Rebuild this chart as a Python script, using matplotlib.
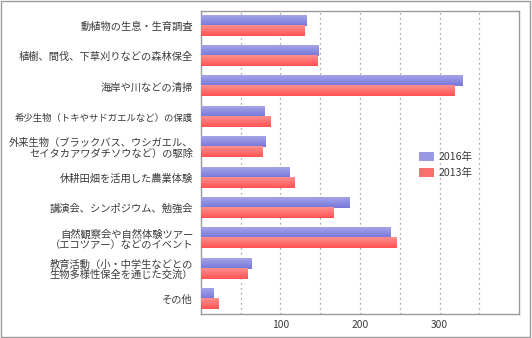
import matplotlib
matplotlib.use("Agg")
import matplotlib.pyplot as plt
import numpy as np
from matplotlib.colors import LinearSegmentedColormap
from matplotlib.patches import Patch, Rectangle

plt.rcParams["font.family"] = ["Noto Sans CJK JP", "DejaVu Sans"]

categories = [
    "動植物の生息・生育調査",
    "植樹、間伐、下草刈りなどの森林保全",
    "海岸や川などの清掃",
    "希少生物（トキやサドガエルなど）の保護",
    "外来生物（ブラックバス、ウシガエル、\nセイタカアワダチソウなど）の駆除",
    "休耕田畑を活用した農業体験",
    "講演会、シンポジウム、勉強会",
    "自然観察会や自然体験ツアー\n（エコツアー）などのイベント",
    "教育活動（小・中学生などとの\n生物多様性保全を通じた交流）",
    "その他",
]
values_2016 = [133, 148, 328, 80, 81, 111, 186, 238, 63, 16]
values_2013 = [130, 146, 318, 87, 77, 118, 166, 246, 58, 22]
series_labels = ["2016年", "2013年"]
grid_ticks = [50, 100, 150, 200, 250, 300, 350]
tick_labels = [100, 200, 300]

blue_cmap = LinearSegmentedColormap.from_list("blue", ["#a4a4ea", "#7676da"])
red_cmap = LinearSegmentedColormap.from_list("red", ["#ff9090", "#ff5252"])

fig = plt.figure(figsize=(5.32, 3.38), dpi=100)
ax = fig.add_axes([0.3773, 0.0701, 0.5988, 0.8988])

y = np.arange(len(categories))
h = 0.33
bars_16 = ax.barh(y - h / 2, values_2016, height=h, color="#8e8ee2", edgecolor="none", zorder=2)
bars_13 = ax.barh(y + h / 2, values_2013, height=h, color="#ff6a6a", edgecolor="none", zorder=2)

# vertical gradient over each bar
grad = np.linspace(0, 1, 64)[:, None]
for bars, cmap in [(bars_16, blue_cmap), (bars_13, red_cmap)]:
    for rect in bars:
        x0, y0 = rect.get_x(), rect.get_y()
        w, hh = rect.get_width(), rect.get_height()
        ax.imshow(grad, cmap=cmap, extent=(x0, x0 + w, y0 + hh, y0),
                  aspect="auto", origin="upper", zorder=3, interpolation="bilinear")

for gx in grid_ticks:
    ax.axvline(gx, color="#8a8a8a", linestyle=(0, (1, 3)), linewidth=0.9, zorder=1)

ax.set_xlim(0, 400)
ax.set_ylim(len(categories) - 0.5, -0.5)
ax.set_xticks(tick_labels)
ax.set_xticklabels([str(t) for t in tick_labels])
ax.set_yticks(y)
ax.set_yticklabels(categories, multialignment="right", linespacing=1.05)
ax.tick_params(axis="both", length=0, labelsize=7.4, colors="#3a3a3a")
ax.tick_params(axis="y", pad=5.5)
ax.tick_params(axis="x", pad=4)
# the longest single-line label needs a slightly smaller size to fit
ax.get_yticklabels()[3].set_fontsize(6.75)
for spine in ax.spines.values():
    spine.set_color("#9a9a9a")
    spine.set_linewidth(1.0)

handles = [Patch(facecolor="#9a9ae4", edgecolor="none"),
           Patch(facecolor="#ff6e6e", edgecolor="none")]
ax.legend(handles, series_labels, loc="upper left", bbox_to_anchor=(0.655, 0.565),
          frameon=False, fontsize=7.6, handlelength=1.45, handleheight=0.95,
          handletextpad=0.4, labelspacing=0.55, labelcolor="#3a3a3a")

# outer frame
fig.patches.append(Rectangle((0.001, 0.0015), 0.996, 0.995, transform=fig.transFigure,
                             fill=False, edgecolor="#9a9a9a", linewidth=1.0))

fig.savefig("out.png", dpi=100)
